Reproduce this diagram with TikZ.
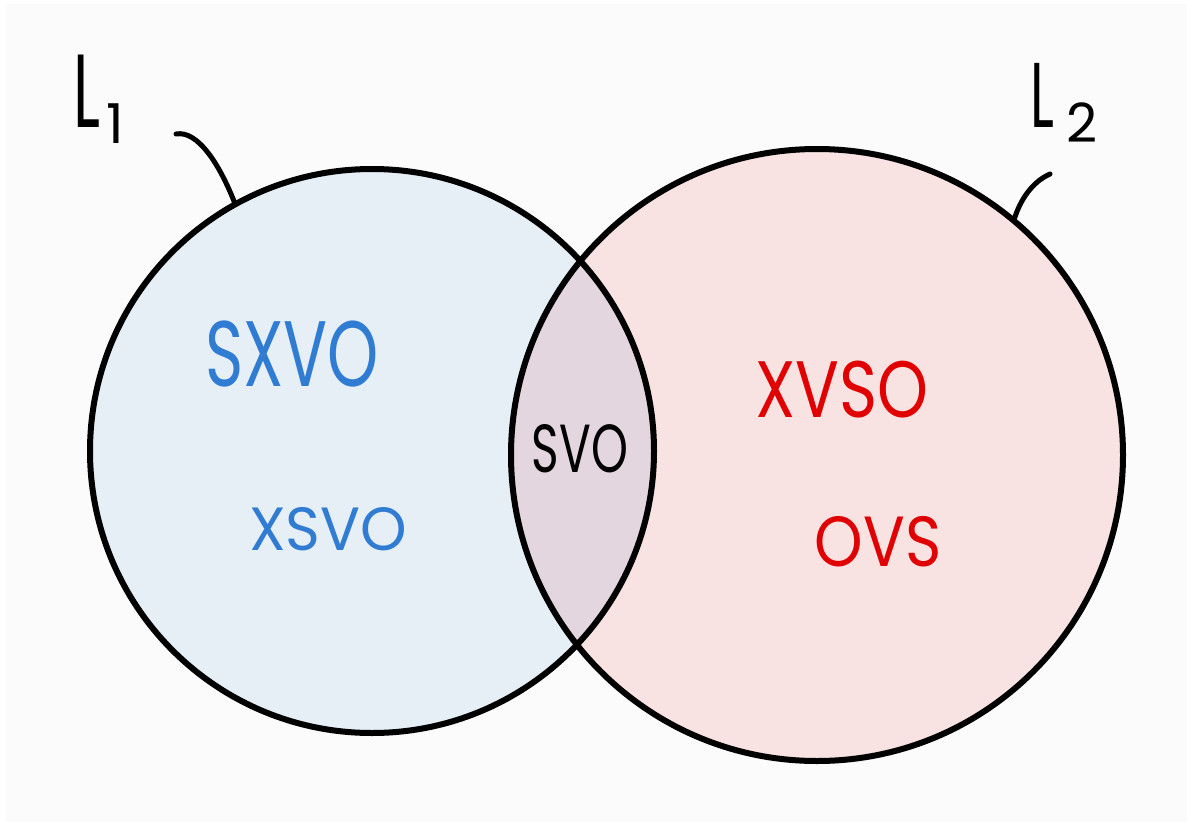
\documentclass[tikz,border=0pt]{standalone}
\usepackage{fontspec}
\setmainfont{Poppins}
\usetikzlibrary{positioning}
\definecolor{paper}{HTML}{FBFBFB}
\definecolor{setblue}{HTML}{E6EEF6}
\definecolor{setred}{HTML}{F8E2E2}
\definecolor{setmix}{HTML}{E3D6DE}
\definecolor{inkblue}{HTML}{2F7CD2}
\definecolor{inkred}{HTML}{E00000}
\tikzset{
  ring/.style={line width=6pt, draw=black},
  leader/.style={line width=5pt, line cap=round},
  word/.style={inner sep=0pt},
}
% squeeze a word sideways: {xscale}{size}{text}
\newcommand{\squeezed}[3]{\scalebox{#1}[1]{\fontsize{#2}{#2}\selectfont #3}}

\begin{document}
\begin{tikzpicture}[x=1pt, y=-1pt]
        \fill [white] (0,0) rectangle (1187,822);
        \fill [paper] (6,4) rectangle (1187,822);
        \useasboundingbox (0,0) rectangle (1187,822);

        \node (setA) [circle, inner sep=0pt, minimum size=564pt, fill=setblue] at (372,451) {};
        \node (setB) [circle, inner sep=0pt, minimum size=612pt, fill=setred] at (817,455) {};

        \begin{scope}
            \clip (setA.center) circle (282pt);
            \fill [setmix] (setB.center) circle (306pt);
        \end{scope}
        \draw [ring] (setA.center) circle (282pt);
        \draw [ring] (setB.center) circle (306pt);

        \node (nameA) [word, anchor=base west] at (73,127) {\squeezed{0.6}{104}{L}\hspace{6pt}\raisebox{-16pt}{\fontsize{55}{55}\selectfont 1}};
        \node (nameB) [word, anchor=base west] at (1030,127) {\squeezed{0.6}{92}{L}\hspace{12pt}\raisebox{-15pt}{\fontsize{54}{54}\selectfont 2}};

        \coordinate (tagA) at (176,134);
        \coordinate (tagB) at (1050,174);
        \draw [leader] (tagA) .. controls (198,130) and (220,165) .. (setA.119);
        \draw [leader] (tagB) .. controls (1032,182) and (1020,200) .. (setB.50);

        \node (wSXVO) [word, text=inkblue] at (292,354) {\squeezed{0.70}{93}{SXVO}};
        \node (wXSVO) [word, text=inkblue] at (328,529) {\squeezed{0.97}{61}{XSVO}};
        \node (wSVO)  [word]               at (580,449) {\squeezed{0.69}{68}{SVO}};
        \node (wXVSO) [word, text=inkred]  at (842,390) {\squeezed{0.81}{80}{XVSO}};
        \node (wOVS)  [word, text=inkred]  at (878,542) {\squeezed{0.87}{71}{OVS}};
\end{tikzpicture}
\end{document}
